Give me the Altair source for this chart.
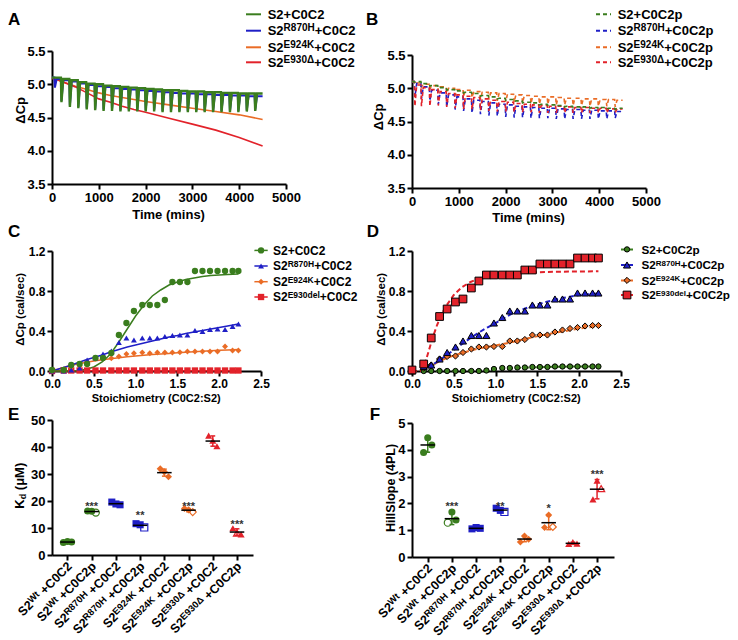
import altair as alt
import pandas as pd

FONT = "Liberation Sans"
GREEN = "#3a7d1e"
BLUE = "#1f1fc6"
ORANGE = "#ea6c26"
RED = "#e2222a"

# ---------------- Panels A / B : raw ITC traces ----------------
inj_t = [50, 190, 370, 550, 730, 910, 1090, 1270, 1450, 1630, 1810, 1990, 2170,
         2350, 2530, 2710, 2890, 3070, 3250, 3430, 3610, 3790, 3970, 4150, 4330]

A_green_pre = [5.10, 5.10, 5.08, 5.06, 5.03, 5.01, 5.00, 4.98, 4.97, 4.96, 4.95, 4.94, 4.93,
               4.92, 4.91, 4.91, 4.90, 4.89, 4.89, 4.88, 4.88, 4.87, 4.87, 4.86, 4.86, 4.86]
A_green_dip = [5.10, 4.73, 4.66, 4.64, 4.62, 4.61, 4.60, 4.60, 4.59, 4.59, 4.59, 4.59, 4.59,
               4.58, 4.58, 4.58, 4.58, 4.58, 4.58, 4.58, 4.58, 4.58, 4.58, 4.59, 4.60]
A_blue_pre = [5.10, 5.08, 5.06, 5.04, 5.01, 4.99, 4.97, 4.96, 4.94, 4.93, 4.92, 4.91, 4.90,
              4.89, 4.88, 4.87, 4.86, 4.86, 4.85, 4.85, 4.84, 4.84, 4.83, 4.83, 4.82, 4.82]
A_blue_dip = [4.95, 4.75, 4.68, 4.66, 4.64, 4.63, 4.62, 4.62, 4.61, 4.61, 4.61, 4.61, 4.61,
              4.60, 4.60, 4.60, 4.60, 4.60, 4.60, 4.60, 4.60, 4.60, 4.60, 4.61, 4.62]
A_orange_t = [0, 100, 250, 500, 750, 1000, 1250, 1500, 1750, 2000, 2500, 3000, 3500, 4000, 4500]
A_orange_v = [5.09, 5.07, 5.03, 4.97, 4.92, 4.87, 4.83, 4.80, 4.77, 4.74, 4.69, 4.64, 4.59, 4.54, 4.47]
A_red_t = [0, 100, 250, 500, 750, 1000, 1250, 1500, 1750, 2000, 2500, 3000, 3500, 4000, 4500]
A_red_v = [5.09, 5.07, 5.03, 4.96, 4.87, 4.78, 4.73, 4.67, 4.62, 4.58, 4.49, 4.40, 4.31, 4.20, 4.07]

B_green_pre = [5.10, 5.10, 5.07, 5.04, 5.01, 4.98, 4.96, 4.94, 4.92, 4.89, 4.87, 4.85, 4.83,
               4.81, 4.79, 4.78, 4.76, 4.75, 4.74, 4.73, 4.72, 4.72, 4.71, 4.71, 4.70, 4.70]
B_green_dip = [5.09, 5.06, 5.03, 5.00, 4.97, 4.95, 4.93, 4.91, 4.88, 4.86, 4.84, 4.82, 4.80,
               4.78, 4.77, 4.75, 4.74, 4.73, 4.72, 4.71, 4.70, 4.70, 4.69, 4.69, 4.68]
B_blue_pre = [5.10, 5.07, 5.02, 4.97, 4.93, 4.90, 4.87, 4.84, 4.82, 4.80, 4.78, 4.76, 4.75,
              4.73, 4.72, 4.71, 4.70, 4.70, 4.69, 4.68, 4.68, 4.67, 4.67, 4.66, 4.66, 4.65]
B_blue_dip = [4.87, 4.84, 4.81, 4.76, 4.72, 4.68, 4.66, 4.63, 4.61, 4.59, 4.58, 4.57, 4.56,
              4.56, 4.55, 4.55, 4.55, 4.54, 4.54, 4.54, 4.54, 4.54, 4.54, 4.54, 4.55]
B_orange_pre = [5.10, 5.08, 5.06, 5.04, 5.02, 5.00, 4.98, 4.97, 4.95, 4.94, 4.93, 4.92, 4.91,
                4.90, 4.89, 4.88, 4.87, 4.87, 4.86, 4.85, 4.85, 4.84, 4.84, 4.83, 4.83, 4.82]
B_orange_dip = [5.06, 5.02, 4.99, 4.96, 4.93, 4.90, 4.88, 4.86, 4.84, 4.83, 4.81, 4.80, 4.79,
                4.78, 4.77, 4.76, 4.76, 4.75, 4.75, 4.74, 4.74, 4.73, 4.73, 4.73, 4.72]
B_red_pre = [5.10, 5.05, 5.01, 4.98, 4.95, 4.92, 4.90, 4.88, 4.86, 4.84, 4.82, 4.80, 4.79,
             4.77, 4.76, 4.75, 4.74, 4.73, 4.73, 4.72, 4.71, 4.71, 4.70, 4.70, 4.69, 4.69]
B_red_dip = [4.73, 4.73, 4.73, 4.74, 4.72, 4.70, 4.69, 4.68, 4.67, 4.66, 4.65, 4.65, 4.64,
             4.64, 4.64, 4.63, 4.63, 4.63, 4.63, 4.63, 4.63, 4.63, 4.63, 4.63, 4.63]

# ---------------- Panels C / D : binding isotherms ----------------
C_x = [0.0, 0.14, 0.23, 0.33, 0.42, 0.52, 0.61, 0.71, 0.80, 0.89, 0.98, 1.08, 1.17,
       1.26, 1.35, 1.44, 1.53, 1.62, 1.71, 1.80, 1.89, 1.98, 2.07, 2.16, 2.23]
C_green = [0.01, 0.01, 0.06, 0.07, 0.07, 0.13, 0.13, 0.18, 0.36, 0.48, 0.60, 0.66, 0.66,
           0.66, 0.71, 0.89, 0.89, 0.89, 1.00, 1.00, 1.00, 1.00, 1.00, 1.00, 1.00]
C_blue = [0.0, 0.0, 0.01, 0.03, 0.11, 0.13, 0.17, 0.20, 0.285, 0.33, 0.31, 0.33, 0.33,
          0.33, 0.345, 0.355, 0.36, 0.36, 0.405, 0.395, 0.415, 0.42, 0.415, 0.445, 0.47]
C_orange = [0.0, 0.01, 0.037, 0.05, 0.094, 0.128, 0.128, 0.128, 0.145, 0.17, 0.178, 0.185, 0.178,
            0.185, 0.185, 0.185, 0.188, 0.195, 0.195, 0.195, 0.195, 0.195, 0.245, 0.205, 0.205]
C_red = [0.0, 0.005, 0.005, 0.005, 0.005, 0.005, 0.005, 0.005, 0.005, 0.005, 0.005, 0.005, 0.005,
         0.005, 0.005, 0.005, 0.005, 0.005, 0.005, 0.005, 0.005, 0.005, 0.005, 0.005, 0.005]
C_fit_x = [0.0, 0.1, 0.2, 0.3, 0.4, 0.5, 0.6, 0.7, 0.8, 0.9, 1.0, 1.1, 1.2, 1.3, 1.4, 1.5,
           1.6, 1.7, 1.8, 1.9, 2.0, 2.1, 2.23]
C_fit_green = [0.0, 0.0, 0.0, 0.005, 0.015, 0.04, 0.09, 0.17, 0.29, 0.42, 0.55, 0.66, 0.75,
               0.81, 0.86, 0.89, 0.915, 0.93, 0.945, 0.955, 0.96, 0.965, 0.97]
C_fit_blue = [0.0, 0.025, 0.05, 0.08, 0.11, 0.135, 0.16, 0.19, 0.215, 0.24, 0.26, 0.28, 0.30,
              0.32, 0.34, 0.355, 0.375, 0.39, 0.405, 0.42, 0.435, 0.45, 0.47]
C_fit_orange = [0.0, 0.025, 0.05, 0.07, 0.085, 0.10, 0.112, 0.123, 0.133, 0.142, 0.15, 0.157,
                0.164, 0.17, 0.176, 0.182, 0.187, 0.192, 0.197, 0.202, 0.207, 0.211, 0.216]
C_fit_red = [0.003, 0.003, 0.003, 0.003, 0.003, 0.003, 0.003, 0.003, 0.003, 0.003, 0.003, 0.003,
             0.003, 0.003, 0.003, 0.003, 0.003, 0.003, 0.003, 0.003, 0.003, 0.003, 0.003]

D_green = [0.0, 0.0, 0.0, 0.0, 0.0, 0.0, 0.0, 0.0, 0.0, 0.005, 0.02, 0.03, 0.03,
           0.035, 0.035, 0.04, 0.04, 0.04, 0.045, 0.045, 0.045, 0.045, 0.045, 0.045, 0.045]
D_blue = [0.0, 0.045, 0.06, 0.12, 0.185, 0.24, 0.30, 0.355, 0.355, 0.355, 0.48, 0.535, 0.60,
          0.60, 0.60, 0.66, 0.66, 0.66, 0.72, 0.72, 0.72, 0.78, 0.78, 0.78, 0.78]
D_orange = [0.0, 0.03, 0.06, 0.12, 0.145, 0.15, 0.185, 0.22, 0.24, 0.24, 0.245, 0.245, 0.30,
            0.30, 0.315, 0.36, 0.36, 0.36, 0.39, 0.41, 0.425, 0.435, 0.45, 0.455, 0.455]
D_red = [0.01, 0.07, 0.33, 0.545, 0.62, 0.69, 0.72, 0.83, 0.90, 0.96, 0.96, 0.96, 0.96,
         0.96, 1.01, 1.01, 1.07, 1.07, 1.07, 1.07, 1.07, 1.13, 1.13, 1.13, 1.13]
D_fit_x = [0.0, 0.1, 0.15, 0.2, 0.25, 0.3, 0.35, 0.4, 0.5, 0.6, 0.7, 0.8, 0.9, 1.0, 1.2,
           1.4, 1.6, 1.8, 2.0, 2.23]
D_fit_red = [0.0, 0.0, 0.06, 0.2, 0.34, 0.46, 0.56, 0.64, 0.76, 0.84, 0.89, 0.925, 0.945,
             0.96, 0.975, 0.985, 0.99, 0.993, 0.995, 0.997]
D_fit_blue = [0.0, 0.0, 0.02, 0.04, 0.065, 0.09, 0.12, 0.15, 0.21, 0.27, 0.33, 0.385, 0.435,
              0.48, 0.575, 0.64, 0.69, 0.73, 0.76, 0.775]
D_fit_orange = [0.0, 0.0, 0.02, 0.04, 0.06, 0.085, 0.105, 0.125, 0.155, 0.18, 0.205, 0.225,
                0.24, 0.255, 0.29, 0.33, 0.365, 0.395, 0.425, 0.45]
D_fit_green = [0.0, 0.0, 0.0, 0.0, 0.0, 0.0, 0.0, 0.0, 0.0, 0.003, 0.006, 0.01, 0.015, 0.02,
               0.028, 0.035, 0.04, 0.043, 0.045, 0.046]

# ---------------- Panels E / F : Kd and Hill slope ----------------
GROUPS = ["wt", "wt", "r870h", "r870h", "e924k", "e924k", "e930", "e930"]
SUPS = ["Wt", "Wt", "R870H", "R870H", "E924K", "E924K", "E930\u0394", "E930\u0394"]
TAILS = [" +C0C2", " +C0C2p", " +C0C2", " +C0C2p", " +C0C2", " +C0C2p", " +C0C2", " +C0C2p"]
REP_OFF = [-0.17, 0.0, 0.17]

E_vals = [[4.6, 5.0, 4.8], [16.3, 16.2, 15.7], [19.6, 18.9, 18.6], [11.6, 11.2, 10.2],
          [31.9, 30.8, 29.0], [17.2, 16.7, 15.9], [44.2, 42.3, 40.3], [9.9, 8.1, 7.6]]
E_open = [[0, 0, 0], [0, 0, 1], [0, 0, 0], [0, 0, 1], [0, 0, 0], [0, 0, 1], [0, 0, 0], [0, 1, 0]]
E_mean = [4.8, 16.1, 19.0, 11.0, 30.5, 16.6, 42.2, 8.5]
E_sd = [0.2, 0.3, 0.5, 0.7, 1.3, 0.6, 1.9, 1.2]
E_star_cat = [2, 4, 6, 8]
E_star_txt = ["***", "**", "***", "***"]
E_star_y = [20.2, 16.7, 20.2, 13.3]

F_vals = [[3.9, 4.45, 4.18], [1.28, 1.68, 1.38], [1.05, 1.10, 1.07], [1.82, 1.74, 1.68],
          [0.56, 0.78, 0.66], [1.10, 1.57, 1.12], [0.49, 0.56, 0.50], [2.15, 2.85, 2.55]]
F_open = [[0, 0, 0], [1, 0, 0], [0, 0, 0], [0, 0, 1], [0, 0, 0], [0, 0, 1], [0, 0, 0], [0, 0, 1]]
F_mean = [4.18, 1.43, 1.07, 1.75, 0.67, 1.28, 0.51, 2.53]
F_sd = [0.27, 0.22, 0.03, 0.06, 0.10, 0.26, 0.04, 0.36]
F_star_cat = [2, 4, 6, 8]
F_star_txt = ["***", "**", "*", "***"]
F_star_y = [2.1, 2.1, 2.04, 3.3]

# ---------------- helpers ----------------
ONE = pd.DataFrame({"k": [0]})
AW = {" ": 278, "(": 333, ")": 333, "*": 389, "+": 584, "/": 278, ":": 333, ".": 278,
      "A": 722, "C": 722, "D": 722, "E": 667, "H": 722, "K": 722, "L": 611, "M": 833,
      "P": 667, "R": 722, "S": 667, "T": 611, "W": 944, "a": 556, "c": 556, "d": 611,
      "e": 556, "h": 611, "i": 278, "l": 278, "m": 889, "n": 611, "o": 611, "p": 611,
      "r": 389, "s": 556, "t": 333, "y": 556, "\u0394": 700, "\u03bc": 611}


def tw(s, fs):
    return sum(AW.get(ch, 556) for ch in s) * fs / 1000.0


def rich(pieces, x, y, align="left", angle=0, color="black"):
    main = max(p[1] for p in pieces)
    total = sum(tw(t, fs) for t, fs, r in pieces)
    cur = {"left": 0.0, "center": -total / 2.0, "right": -total}[align]
    dy0 = 0.358 * main
    out = []
    for t, fs, r in pieces:
        lead = len(t) - len(t.lstrip(" "))
        if lead:
            cur += tw(" " * lead, fs)
            t = t.lstrip(" ")
        out.append(alt.Chart(ONE).mark_text(
            text=t, font=FONT, fontSize=fs, fontWeight="bold", color=color,
            align="left", baseline="alphabetic", angle=angle,
            dx=round(cur, 2), dy=round(dy0 - r, 2)).encode(x=alt.value(x), y=alt.value(y)))
        cur += tw(t, fs)
    return out


def seg(x1, x2, y, color, width=2, dash=None):
    kw = dict(color=color, strokeWidth=width)
    if dash:
        kw["strokeDash"] = dash
    return alt.Chart(ONE).mark_rule(**kw).encode(x=alt.value(x1), x2=alt.value(x2), y=alt.value(y))


def dot(x, y, shape, color, size, edge=None):
    kw = dict(shape=shape, filled=True, size=size, fill=color, opacity=1)
    if edge:
        kw.update(stroke=edge, strokeWidth=1)
    else:
        kw.update(strokeWidth=0)
    return alt.Chart(ONE).mark_point(**kw).encode(x=alt.value(x), y=alt.value(y))


def axis(values, fmt, fs, labels=True):
    return alt.Axis(values=values, format=fmt, title=None, grid=False, labels=labels,
                    domainColor="black", domainWidth=2, tickColor="black", tickWidth=2,
                    tickSize=5, labelFont=FONT, labelFontSize=fs, labelFontWeight="bold",
                    labelColor="black", labelPadding=2, labelFlush=False, labelOverlap=False)


def scale(domain, rng=None):
    kw = dict(domain=domain, nice=False, zero=False)
    if rng:
        kw["range"] = rng
    return alt.Scale(**kw)


def legend(entries, ys, xl0, xl1, xt, dash=None, lw=2, msize=40, edge=None):
    out = []
    for (color, shape, pieces), y in zip(entries, ys):
        out.append(seg(xl0, xl1, y, color, lw, dash))
        if shape:
            out.append(dot((xl0 + xl1) / 2.0, y, shape, color, msize, edge))
        out += rich(pieces, xt, y)
    return out


def ts_df(pre, dip):
    t = [0]
    v = [pre[0]]
    for k, ti in enumerate(inj_t):
        t += [ti, ti + 12, ti + 50]
        v += [pre[k], dip[k], pre[k + 1]]
    t.append(4500)
    v.append(pre[-1])
    return pd.DataFrame({"t": t, "v": v, "o": list(range(len(t)))})


def sup_entry(sup, tail, fs, sfs, rise):
    return [("S2", fs, 0), (sup, sfs, rise), (tail, fs, 0)]


# ---------------- Panel A/B builder ----------------
def trace_panel(series, H, yrange, dash, letter, lx, leg_entries, title_xy, xt_xy):
    xs = scale([0, 5000])
    ys = scale([3.5, 5.5], yrange)
    xa = axis([0, 1000, 2000, 3000, 4000, 5000], "d", 13)
    ya = axis([3.5, 4.0, 4.5, 5.0, 5.5], ".1f", 13)
    layers = []
    for df, color, width in series:
        kw = dict(color=color, strokeWidth=width)
        if dash:
            kw["strokeDash"] = dash
        layers.append(alt.Chart(df).mark_line(**kw).encode(
            x=alt.X("t:Q", scale=xs, axis=xa), y=alt.Y("v:Q", scale=ys, axis=ya), order="o:Q"))
    layers += legend(leg_entries, [-36.7, -20.3, -3.7, 11.3], lx[0], lx[1], lx[2], dash=dash)
    layers += rich([(letter, 17, 0)], -44 if letter == "A" else -46, -31.9)
    layers += rich([("\u0394Cp", 13, 0)], title_xy[0], title_xy[1], "center", 270)
    layers += rich([("Time (mins)", 13, 0)], xt_xy[0], xt_xy[1], "center")
    return alt.layer(*layers).properties(width=234, height=H)


legA = [(GREEN, None, [("S2+C0C2", 13, 0)]),
        (BLUE, None, sup_entry("R870H", "+C0C2", 13, 10, 4)),
        (ORANGE, None, sup_entry("E924K", "+C0C2", 13, 10, 4)),
        (RED, None, sup_entry("E930\u0394", "+C0C2", 13, 10, 4))]
legB = [(GREEN, None, [("S2+C0C2p", 13, 0)]),
        (BLUE, None, sup_entry("R870H", "+C0C2p", 13, 10, 4)),
        (ORANGE, None, sup_entry("E924K", "+C0C2p", 13, 10, 4)),
        (RED, None, sup_entry("E930\u0394", "+C0C2p", 13, 10, 4))]

panelA = trace_panel(
    [(pd.DataFrame({"t": A_orange_t, "v": A_orange_v, "o": list(range(len(A_orange_t)))}), ORANGE, 1.6),
     (pd.DataFrame({"t": A_red_t, "v": A_red_v, "o": list(range(len(A_red_t)))}), RED, 1.6),
     (ts_df(A_blue_pre, A_blue_dip), BLUE, 2),
     (ts_df(A_green_pre, A_green_dip), GREEN, 2.4)],
    133, None, None, "A", (194, 209, 215.7), legA, (-32, 59.5), (116.7, 163.3))

panelB = trace_panel(
    [(ts_df(B_orange_pre, B_orange_dip), ORANGE, 1.6),
     (ts_df(B_blue_pre, B_blue_dip), BLUE, 1.6),
     (ts_df(B_red_pre, B_red_dip), RED, 1.6),
     (ts_df(B_green_pre, B_green_dip), GREEN, 1.6)],
    137, [137, 4], [4, 3], "B", (184, 199, 205.7), legB, (-33.3, 66), (116.7, 166.7))


# ---------------- Panel C/D builder ----------------
def iso_panel(points, fits, fit_x, dash, edge, letter, lx, leg_entries, title_x, leg_sizes):
    xs = scale([0, 2.5])
    ys = scale([0, 1.2], [134, 14])
    xa = axis([0, 0.5, 1.0, 1.5, 2.0, 2.5], ".1f", 12)
    ya = axis([0, 0.4, 0.8, 1.2], ".1f", 12)
    layers = []
    for yv, color in fits:
        kw = dict(color=color, strokeWidth=2 if dash else 1.5)
        if dash:
            kw["strokeDash"] = dash
        layers.append(alt.Chart(pd.DataFrame({"x": fit_x, "y": yv})).mark_line(**kw).encode(
            x=alt.X("x:Q", scale=xs, axis=xa), y=alt.Y("y:Q", scale=ys, axis=ya)))
    for yv, color, shape, ms in points:
        kw = dict(shape=shape, filled=True, size=ms, fill=color, opacity=1)
        if edge:
            kw.update(stroke=edge, strokeWidth=1)
        else:
            kw.update(strokeWidth=0)
        layers.append(alt.Chart(pd.DataFrame({"x": C_x, "y": yv})).mark_point(**kw).encode(
            x=alt.X("x:Q", scale=xs, axis=xa), y=alt.Y("y:Q", scale=ys, axis=ya)))
    rows = [13.4, 29, 44.7, 60] if letter == "C" else [12.4, 28, 43.4, 58]
    for (color, shape, pieces), y, ms in zip(leg_entries, rows, leg_sizes):
        layers.append(seg(lx[0], lx[1], y, color, 2 if dash else 1.5, dash))
        layers.append(dot((lx[0] + lx[1]) / 2.0, y, shape, color, ms, edge))
        layers += rich(pieces, lx[2], y)
    layers += rich([(letter, 17, 0)], -44 if letter == "C" else -45.3, -6.2)
    layers += rich([("\u0394Cp (cal/sec)", 11.5, 0)], title_x, 72.4, "center", 270)
    layers += rich([("Stoichiometry (C0C2:S2)", 11, 0)], 104.2, 161.3, "center")
    return alt.layer(*layers).properties(width=209, height=134)


legC = [(GREEN, "circle", [("S2+C0C2", 12, 0)]),
        (BLUE, "triangle-up", sup_entry("R870H", "+C0C2", 12, 8.5, 3.5)),
        (ORANGE, "diamond", sup_entry("E924K", "+C0C2", 12, 8.5, 3.5)),
        (RED, "square", sup_entry("E930del", "+C0C2", 12, 8.5, 3.5))]
legD = [(GREEN, "circle", [("S2+C0C2p", 11.7, 0)]),
        (BLUE, "triangle-up", sup_entry("R870H", "+C0C2p", 11.7, 8, 3.5)),
        (ORANGE, "diamond", sup_entry("E924K", "+C0C2p", 11.7, 8, 3.5)),
        (RED, "square", sup_entry("E930del", "+C0C2p", 11.7, 8, 3.5))]

panelC = iso_panel(
    [(C_red, RED, "square", 40), (C_orange, ORANGE, "diamond", 35),
     (C_blue, BLUE, "triangle-up", 35), (C_green, GREEN, "circle", 40)],
    [(C_fit_red, RED), (C_fit_orange, ORANGE), (C_fit_blue, BLUE), (C_fit_green, GREEN)],
    C_fit_x, None, None, "C", (202.4, 215.7, 221), legC, -32.5, [40, 35, 35, 40])
panelD = iso_panel(
    [(D_green, GREEN, "circle", 28), (D_orange, ORANGE, "diamond", 38),
     (D_blue, BLUE, "triangle-up", 50), (D_red, RED, "square", 60)],
    [(D_fit_green, GREEN), (D_fit_orange, ORANGE), (D_fit_blue, BLUE), (D_fit_red, RED)],
    D_fit_x, [5, 3], "black", "D", (209, 221, 229.4), legD, -30.8, [28, 50, 38, 60])


# ---------------- Panel E/F builder ----------------
def stats_panel(vals, opens, means, sds, st_cat, st_txt, st_y, ydom, ytick, d0, d1, W, H,
                yrange, letter, lxy, title_pieces, title_xy):
    xs = scale([d0, d1])
    ys = scale(ydom, yrange)
    xa = axis([1, 2, 3, 4, 5, 6, 7, 8], "d", 13, labels=False)
    ya = axis(ytick, "d", 13)
    cs = alt.Scale(domain=["wt", "r870h", "e924k", "e930"], range=[GREEN, BLUE, ORANGE, RED])
    ss = alt.Scale(domain=["wt", "r870h", "e924k", "e930"],
                   range=["circle", "square", "diamond", "triangle-up"])
    rows = []
    for c in range(8):
        for r in range(3):
            rows.append({"x": c + 1 + REP_OFF[r], "v": vals[c][r], "open": opens[c][r], "g": GROUPS[c]})
    pdf = pd.DataFrame(rows)
    sdf = pd.DataFrame({"cat": list(range(1, 9)), "m": means, "sd": sds, "g": GROUPS})
    stdf = pd.DataFrame({"cat": st_cat, "t": st_txt, "y": st_y})
    X = lambda f: alt.X(f, scale=xs, axis=xa)
    Y = lambda f: alt.Y(f, scale=ys, axis=ya)
    col = alt.Color("g:N", scale=cs, legend=None)
    base = alt.Chart(sdf).transform_calculate(lo="datum.m - datum.sd", hi="datum.m + datum.sd",
                                              a="datum.cat - 0.1", b="datum.cat + 0.1",
                                              ma="datum.cat - 0.3", mb="datum.cat + 0.3")
    layers = [
        base.mark_rule(strokeWidth=1.5).encode(x=X("cat:Q"), y=Y("lo:Q"), y2="hi:Q", color=col),
        base.mark_rule(strokeWidth=1.5).encode(x=X("a:Q"), x2="b:Q", y=Y("lo:Q"), color=col),
        base.mark_rule(strokeWidth=1.5).encode(x=X("a:Q"), x2="b:Q", y=Y("hi:Q"), color=col),
        alt.Chart(pdf).transform_filter("datum.open == 0").mark_point(
            filled=True, size=50, opacity=1).encode(
            x=X("x:Q"), y=Y("v:Q"), color=col, shape=alt.Shape("g:N", scale=ss, legend=None)),
        alt.Chart(pdf).transform_filter("datum.open == 1").mark_point(
            filled=False, size=50, opacity=1, strokeWidth=1.2).encode(
            x=X("x:Q"), y=Y("v:Q"), color=col, shape=alt.Shape("g:N", scale=ss, legend=None)),
        base.mark_rule(color="black", strokeWidth=1.5).encode(x=X("ma:Q"), x2="mb:Q", y=Y("m:Q")),
        alt.Chart(stdf).mark_text(font=FONT, fontSize=11, fontWeight="bold", color="#333333",
                                  dy=6.4).encode(x=X("cat:Q"), y=Y("y:Q"), text="t:N"),
    ]
    for i in range(8):
        px = (i + 1 - d0) / (d1 - d0) * W
        layers += rich(sup_entry(SUPS[i], TAILS[i], 12.5, 9.5, 3.5), px + 2, H + 9, "right", 315)
    layers += rich([(letter, 17, 0)], lxy[0], lxy[1])
    layers += rich(title_pieces, title_xy[0], title_xy[1], "center", 270)
    return alt.layer(*layers).properties(width=W, height=H)


panelE = stats_panel(E_vals, E_open, E_mean, E_sd, E_star_cat, E_star_txt, E_star_y,
                     [0, 50], [0, 10, 20, 30, 40, 50], 0.36, 8.66, 201, 135, None,
                     "E", (-44, -6.2), [("K", 13, 0), ("d", 9, -2.5), (" (\u03bcM)", 13, 0)],
                     (-33, 65.7))
panelF = stats_panel(F_vals, F_open, F_mean, F_sd, F_star_cat, F_star_txt, F_star_y,
                     [0, 5], [0, 1, 2, 3, 4, 5], 0.35, 8.70, 202, 137, [137, 3],
                     "F", (-42.3, -6.0), [("HillSlope (4PL)", 12.5, 0)], (-21.8, 68))

chart = alt.concat(panelA, panelB, panelC, panelD, panelE, panelF, columns=2,
                   spacing={"row": 49, "column": 126}, bounds="flush").properties(
    padding=0, background="white").configure_view(stroke=None)

chart.save("out.html", embed_options={"renderer": "svg", "actions": False})
